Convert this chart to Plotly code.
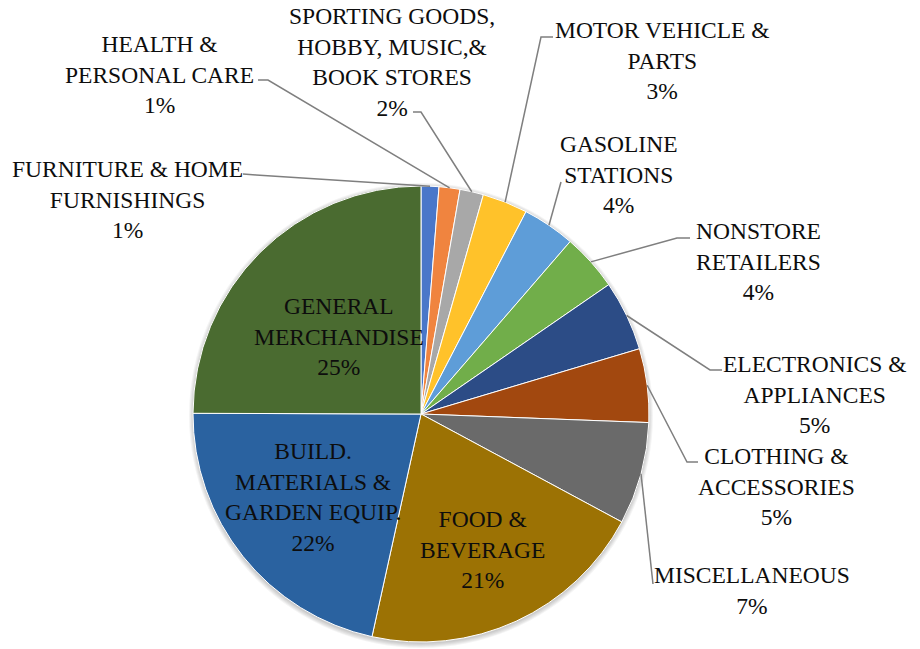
import math
import plotly.graph_objects as go

# ---------------- data ----------------
categories = [
    "FURNITURE & HOME<br>FURNISHINGS",
    "HEALTH &<br>PERSONAL CARE",
    "SPORTING GOODS,<br>HOBBY, MUSIC,&<br>BOOK STORES",
    "MOTOR VEHICLE &<br>PARTS",
    "GASOLINE<br>STATIONS",
    "NONSTORE<br>RETAILERS",
    "ELECTRONICS &<br>APPLIANCES",
    "CLOTHING &<br>ACCESSORIES",
    "MISCELLANEOUS",
    "FOOD &<br>BEVERAGE",
    "BUILD.<br>MATERIALS &<br>GARDEN EQUIP.",
    "GENERAL<br>MERCHANDISE",
]
shares = [1.26, 1.48, 1.67, 3.21, 3.73, 4.05, 4.98, 5.22, 7.25, 20.6, 21.6, 24.95]
colors = ["#4A77C9", "#F0843F", "#A8A8A8", "#FFC22A", "#5E9DD8", "#71AE4A",
          "#2C4C86", "#A2480F", "#6A6A6A", "#9C7204", "#2A62A0", "#4A6B30"]

# ---------------- layout constants (pixels) ----------------
W, H = 920, 649
CX, CY, R = 421, 414, 228

def px(x):
    return x / W

def py(y):
    return 1 - y / H

fig = go.Figure(go.Pie(
    labels=categories,
    values=shares,
    sort=False,
    direction="clockwise",
    rotation=0,
    marker=dict(colors=colors, line=dict(color="white", width=1)),
    textinfo="none",
    hoverinfo="label+percent",
    showlegend=False,
    domain=dict(x=[px(CX - R), px(CX + R)], y=[py(CY + R), py(CY - R)]),
))

# soft shadow around the pie
for k in range(1, 6):
    fig.add_shape(type="circle", xref="paper", yref="paper", layer="below",
                  x0=px(CX - R - k + 1), x1=px(CX + R + k - 1),
                  y0=py(CY + R + k + 1), y1=py(CY - R - k + 2),
                  line=dict(width=0), fillcolor="rgba(0,0,0,0.045)")

# label placement: (center x, center y, elbow points from label toward slice) in pixels
label_layout = [
    (127, 200, [(243, 174), (256, 175)]),
    (159, 74, [(258, 80), (268, 80)]),
    (392, 62, [(413, 112), (421, 112)]),
    (662, 61, [(553, 37), (541, 37)]),
    (619, 174, [(561, 182)]),
    (758, 262, [(690, 238), (677, 238)]),
    (814, 394, [(722, 370), (710, 370)]),
    (776, 486, [(698, 462), (687, 462)]),
    (752, 590, [(653, 584)]),
    (482, 549, None),
    (313, 497, None),
    (339, 336, None),
]

font = dict(family="Liberation Serif", size=23.5, color="#0D0D0D")
total = sum(shares)
cum = 0.0
for name, v, (lx, ly, elbow) in zip(categories, shares, label_layout):
    mid = (cum + v / 2) / total * 2 * math.pi
    cum += v
    pct = f"{round(v / total * 100):d}%"
    fig.add_annotation(
        x=px(lx), y=py(ly), xref="paper", yref="paper",
        text=f"{name}<br>{pct}", showarrow=False,
        xanchor="center", yanchor="middle", align="center", font=font,
    )
    if elbow:
        ex = CX + R * math.sin(mid)
        ey = CY - R * math.cos(mid)
        pts = elbow + [(ex, ey)]
        path = "M " + " L ".join(f"{px(a):.5f},{py(b):.5f}" for a, b in pts)
        fig.add_shape(type="path", path=path, xref="paper", yref="paper",
                      line=dict(color="#7F7F7F", width=1.5))

fig.update_layout(
    width=W, height=H,
    margin=dict(l=0, r=0, t=0, b=0),
    paper_bgcolor="white",
    plot_bgcolor="white",
)

fig.write_html("out.html", config={"displayModeBar": False},
               post_script="document.body.style.margin='0';document.body.style.overflow='hidden';")
